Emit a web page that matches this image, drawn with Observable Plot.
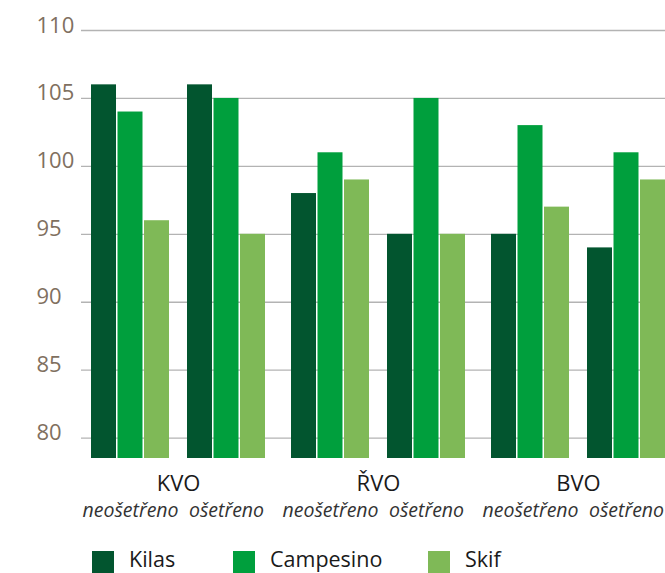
<!DOCTYPE html>
<html>
<head>
<meta charset="utf-8">
<script src="https://cdn.jsdelivr.net/npm/d3@7"></script>
<script src="https://cdn.jsdelivr.net/npm/@observablehq/plot@0.6"></script>
<style>
  html, body { margin: 0; padding: 0; background: #fff; }
  #wrap { position: relative; width: 665px; height: 573px; overflow: hidden; font-family: "Open Sans", sans-serif; }
  #legend { position: absolute; left: 0; top: 551px; width: 665px; }
  .item { position: absolute; top: 0; display: flex; align-items: flex-start; font-size: 21.5px; line-height: 22px; color: #1a1a1a; }
  .item span { position: relative; top: -3px; }
  .sw { width: 22px; height: 22px; margin-right: 15px; }
</style>
</head>
<body>
<div id="wrap"><div id="chart"></div><div id="legend"></div></div>
<script>
const groups = ["KVO", "ŘVO", "BVO"];
const treatments = ["neošetřeno", "ošetřeno"];
const varieties = ["Kilas", "Campesino", "Skif"];
const kilas = [106, 106, 98, 95, 95, 94];
const campesino = [104, 105, 101, 105, 103, 101];
const skif = [96, 95, 99, 95, 97, 99];
const yTicks = [80, 85, 90, 95, 100, 105, 110];
const colors = ["#02552f", "#009f3d", "#7fb957"];

const series = {Kilas: kilas, Campesino: campesino, Skif: skif};
const rows = [];
groups.forEach((g, gi) => treatments.forEach((t, ti) => {
  varieties.forEach(v => rows.push({group: g, treatment: t, variety: v, value: series[v][gi * 2 + ti]}));
}));

const yMin = 78.5;
const insets = [[0, 53], [26.5, 26.5], [53, 0]];

const chart = Plot.plot({
  width: 665,
  height: 540,
  marginTop: 30,
  marginBottom: 82,
  marginLeft: 80,
  marginRight: 0,
  style: {fontFamily: "Open Sans, sans-serif", background: "#fff", overflow: "visible"},
  y: {domain: [yMin, 110], label: null},
  fx: {domain: groups, paddingInner: 0.13, paddingOuter: 0.0275, align: 1, round: false, label: null},
  x: {domain: treatments, paddingInner: 0.1875, paddingOuter: 0, round: false, label: null},
  marks: [
    Plot.ruleY(yTicks, {stroke: "#b3b3b3", strokeWidth: 1.3, insetLeft: -10, insetRight: -16}),
    ...varieties.map((v, k) => Plot.barY(rows.filter(d => d.variety === v), {
      fx: "group", x: "treatment", y1: yMin, y2: "value", fill: colors[k],
      insetLeft: insets[k][0], insetRight: insets[k][1]
    })),
    Plot.axisY(yTicks, {tickSize: 0, tickPadding: 55, textAnchor: "start", fontSize: 22, fill: "#7f7060", dy: -5, label: null}),
    Plot.axisFx({anchor: "bottom", tickSize: 0, tickPadding: 17, fontSize: 22, fill: "#1a1a1a", label: null}),
    Plot.axisX({anchor: "bottom", tickSize: 0, tickPadding: 45, fontSize: 19.5, fontStyle: "italic", fill: "#333", label: null})
  ]
});
document.getElementById("chart").appendChild(chart);

const legend = document.getElementById("legend");
const lefts = [92, 233, 428];
varieties.forEach((v, k) => {
  const it = document.createElement("div");
  it.className = "item";
  it.style.left = lefts[k] + "px";
  const sw = document.createElement("div");
  sw.className = "sw";
  sw.style.background = colors[k];
  const tx = document.createElement("span");
  tx.textContent = v;
  it.appendChild(sw); it.appendChild(tx);
  legend.appendChild(it);
});
</script>
</body>
</html>
